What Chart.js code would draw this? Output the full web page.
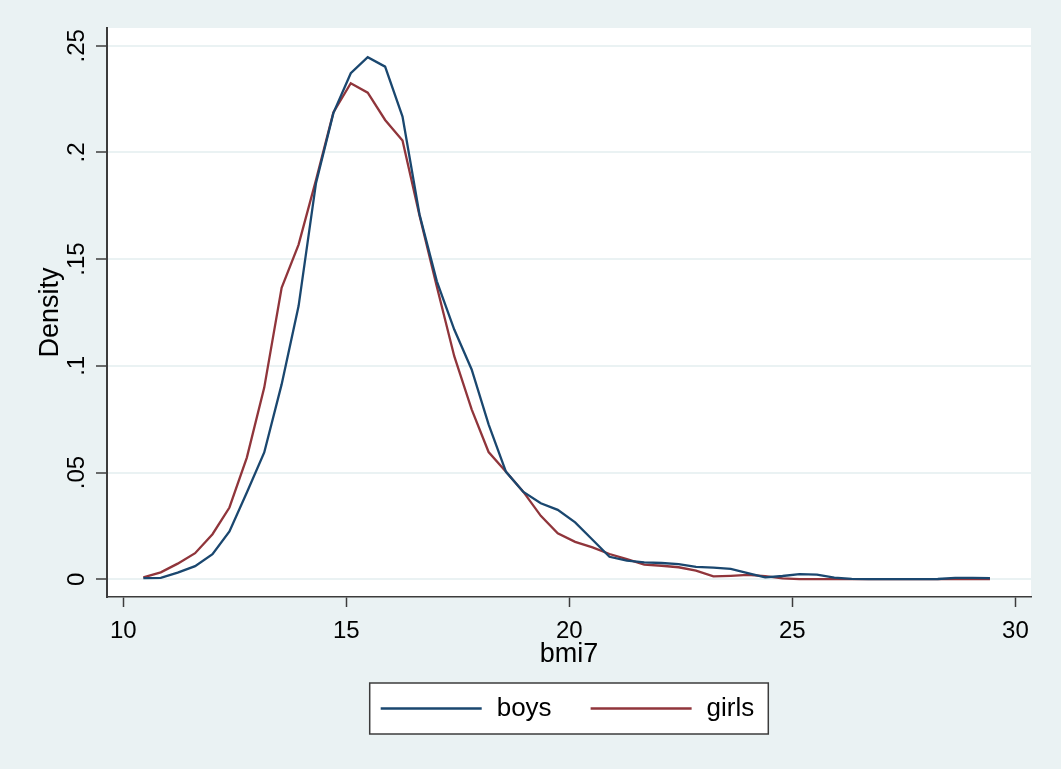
<!DOCTYPE html>
<html>
<head>
<meta charset="utf-8">
<script src="https://cdn.jsdelivr.net/npm/chart.js@4.4.1/dist/chart.umd.min.js"></script>
<style>
    body { margin: 0; background: #EAF2F3; }
    #wrap { width: 1061px; height: 769px; }
</style>
</head>
<body>
<div id="wrap">
    <canvas id="myChart" width="1061" height="769"></canvas>
</div>
<script>
// kdensity grid (bmi7), 50 points
const bmiPoints = [10.45, 10.84, 11.22, 11.61, 12.00, 12.38, 12.77, 13.16, 13.55, 13.93,
    14.32, 14.71, 15.10, 15.48, 15.87, 16.26, 16.64, 17.03, 17.42, 17.81,
    18.19, 18.58, 18.97, 19.36, 19.74, 20.13, 20.52, 20.90, 21.29, 21.68,
    22.07, 22.45, 22.84, 23.23, 23.62, 24.00, 24.39, 24.78, 25.16, 25.55,
    25.94, 26.33, 26.71, 27.10, 27.49, 27.88, 28.26, 28.65, 29.04, 29.43];

const boysDensity = [0.0005, 0.0006, 0.0031, 0.0061, 0.0117, 0.0224, 0.0406, 0.0594, 0.0913, 0.1280,
    0.1856, 0.2184, 0.2371, 0.2446, 0.2402, 0.2168, 0.1710, 0.1396, 0.1170, 0.0983,
    0.0726, 0.0503, 0.0409, 0.0356, 0.0325, 0.0266, 0.0185, 0.0105, 0.0087, 0.0079,
    0.0076, 0.0071, 0.0058, 0.0054, 0.0048, 0.0029, 0.0009, 0.0015, 0.0024, 0.0021,
    0.0007, 0.0002, 0, 0, 0, 0, 0.0001, 0.0006, 0.0006, 0.0005];

const girlsDensity = [0.0009, 0.0032, 0.0073, 0.0122, 0.0211, 0.0336, 0.0570, 0.0898, 0.1365, 0.1568,
    0.1870, 0.2187, 0.2324, 0.2280, 0.2152, 0.2056, 0.1705, 0.1370, 0.1045, 0.0796,
    0.0596, 0.0503, 0.0409, 0.0297, 0.0215, 0.0175, 0.0149, 0.0118, 0.0094, 0.0068,
    0.0063, 0.0056, 0.0040, 0.0013, 0.0016, 0.0020, 0.0014, 0.0004, 0, 0,
    0, 0, 0, 0, 0, 0, 0, 0, 0, 0];

const xTicks = [10, 15, 20, 25, 30];
const xTickLabels = ['10', '15', '20', '25', '30'];
const yTicks = [0, 0.05, 0.1, 0.15, 0.2, 0.25];
const yTickLabels = ['0', '.05', '.1', '.15', '.2', '.25'];

const seriesNames = ['boys', 'girls'];
const seriesColors = ['#1A476F', '#90353B'];

const bgColor = '#EAF2F3';
const axisColor = '#3c3c3c';
const fontName = '"Liberation Sans", Arial, sans-serif';

function toPoints(xs, ys) {
    const pts = [];
    for (let i = 0; i < xs.length; i++) {
        pts.push({x: xs[i], y: ys[i]});
    }
    return pts;
}

// grey graph region + white plot region like stata s2color
const backgroundPlugin = {
    id: 'stataBackground',
    beforeDraw(chart) {
        const ctx = chart.ctx;
        const a = chart.chartArea;
        ctx.save();
        ctx.fillStyle = bgColor;
        ctx.fillRect(0, 0, chart.width, chart.height);
        ctx.fillStyle = '#ffffff';
        ctx.fillRect(a.left, a.top, a.right - a.left, a.bottom - a.top);
        ctx.restore();
    }
};

// boxed legend under the axis title
const legendBoxPlugin = {
    id: 'legendBox',
    afterDraw(chart) {
        const ctx = chart.ctx;
        const a = chart.chartArea;
        const lineLen = 101;
        const padL = 11, padR = 14, gapText = 15, gapItem = 39;
        ctx.save();
        ctx.font = '26px ' + fontName;
        const widths = chart.data.datasets.map(d => ctx.measureText(d.label).width);
        let total = padL + padR;
        widths.forEach((w, i) => {
            total += lineLen + gapText + w;
            if (i > 0) total += gapItem;
        });
        const top = 683;
        const height = 51;
        const left = (a.left + a.right) / 2 - total / 2;
        ctx.fillStyle = '#ffffff';
        ctx.fillRect(left, top, total, height);
        ctx.strokeStyle = axisColor;
        ctx.lineWidth = 1.5;
        ctx.strokeRect(left, top, total, height);

        const midY = top + height / 2;
        let x = left + padL;
        chart.data.datasets.forEach((d, i) => {
            ctx.strokeStyle = d.borderColor;
            ctx.lineWidth = 2.4;
            ctx.beginPath();
            ctx.moveTo(x, midY);
            ctx.lineTo(x + lineLen, midY);
            ctx.stroke();
            x += lineLen + gapText;
            ctx.fillStyle = '#000';
            ctx.textBaseline = 'middle';
            ctx.textAlign = 'left';
            ctx.fillText(d.label, x, midY);
            x += widths[i] + gapItem;
        });
        ctx.restore();
    }
};

const config = {
    type: 'line',
    data: {
        datasets: [{
            label: seriesNames[0],
            data: toPoints(bmiPoints, boysDensity),
            borderColor: seriesColors[0],
            borderWidth: 2.3,
            pointRadius: 0,
            tension: 0,
            fill: false
        }, {
            label: seriesNames[1],
            data: toPoints(bmiPoints, girlsDensity),
            borderColor: seriesColors[1],
            borderWidth: 2.3,
            pointRadius: 0,
            tension: 0,
            fill: false
        }]
    },
    options: {
        responsive: false,
        animation: false,
        layout: {
            padding: {top: 28, right: 30, bottom: 96, left: 0}
        },
        plugins: {
            legend: {display: false},
            tooltip: {enabled: false}
        },
        scales: {
            x: {
                type: 'linear',
                min: 9.635,
                max: 30.35,
                afterBuildTicks: (scale) => {
                    scale.ticks = xTicks.map(v => ({value: v}));
                },
                afterFit: (scale) => {
                    scale.height = 76;
                },
                ticks: {
                    callback: (value, index) => xTickLabels[index],
                    font: {family: fontName, size: 24},
                    color: '#000',
                    padding: 10,
                    maxRotation: 0
                },
                grid: {
                    drawOnChartArea: false,
                    drawTicks: true,
                    tickLength: 10,
                    tickColor: axisColor,
                    tickWidth: 1.5
                },
                border: {display: true, color: axisColor, width: 1.5},
                title: {
                    display: true,
                    text: 'bmi7',
                    font: {family: fontName, size: 27},
                    color: '#000',
                    padding: {top: 0, bottom: 2}
                }
            },
            y: {
                type: 'linear',
                min: -0.00834,
                max: 0.2583,
                afterBuildTicks: (scale) => {
                    scale.ticks = yTicks.map(v => ({value: v}));
                },
                afterFit: (scale) => {
                    scale.width = 107;
                },
                ticks: {
                    callback: (value, index) => yTickLabels[index],
                    font: {family: fontName, size: 24},
                    color: '#000',
                    padding: 2,
                    minRotation: 90,
                    maxRotation: 90,
                    crossAlign: 'center'
                },
                grid: {
                    color: bgColor,
                    lineWidth: 2,
                    drawTicks: true,
                    tickLength: 11,
                    tickColor: axisColor,
                    tickWidth: 1.5
                },
                border: {display: true, color: axisColor, width: 2},
                title: {
                    display: true,
                    text: 'Density',
                    font: {family: fontName, size: 27},
                    color: '#000',
                    padding: {top: 34, bottom: 0}
                }
            }
        }
    },
    plugins: [backgroundPlugin, legendBoxPlugin]
};

const myChartObject = document.getElementById('myChart').getContext('2d');
const chart = new Chart(myChartObject, config);
</script>
</body>
</html>
